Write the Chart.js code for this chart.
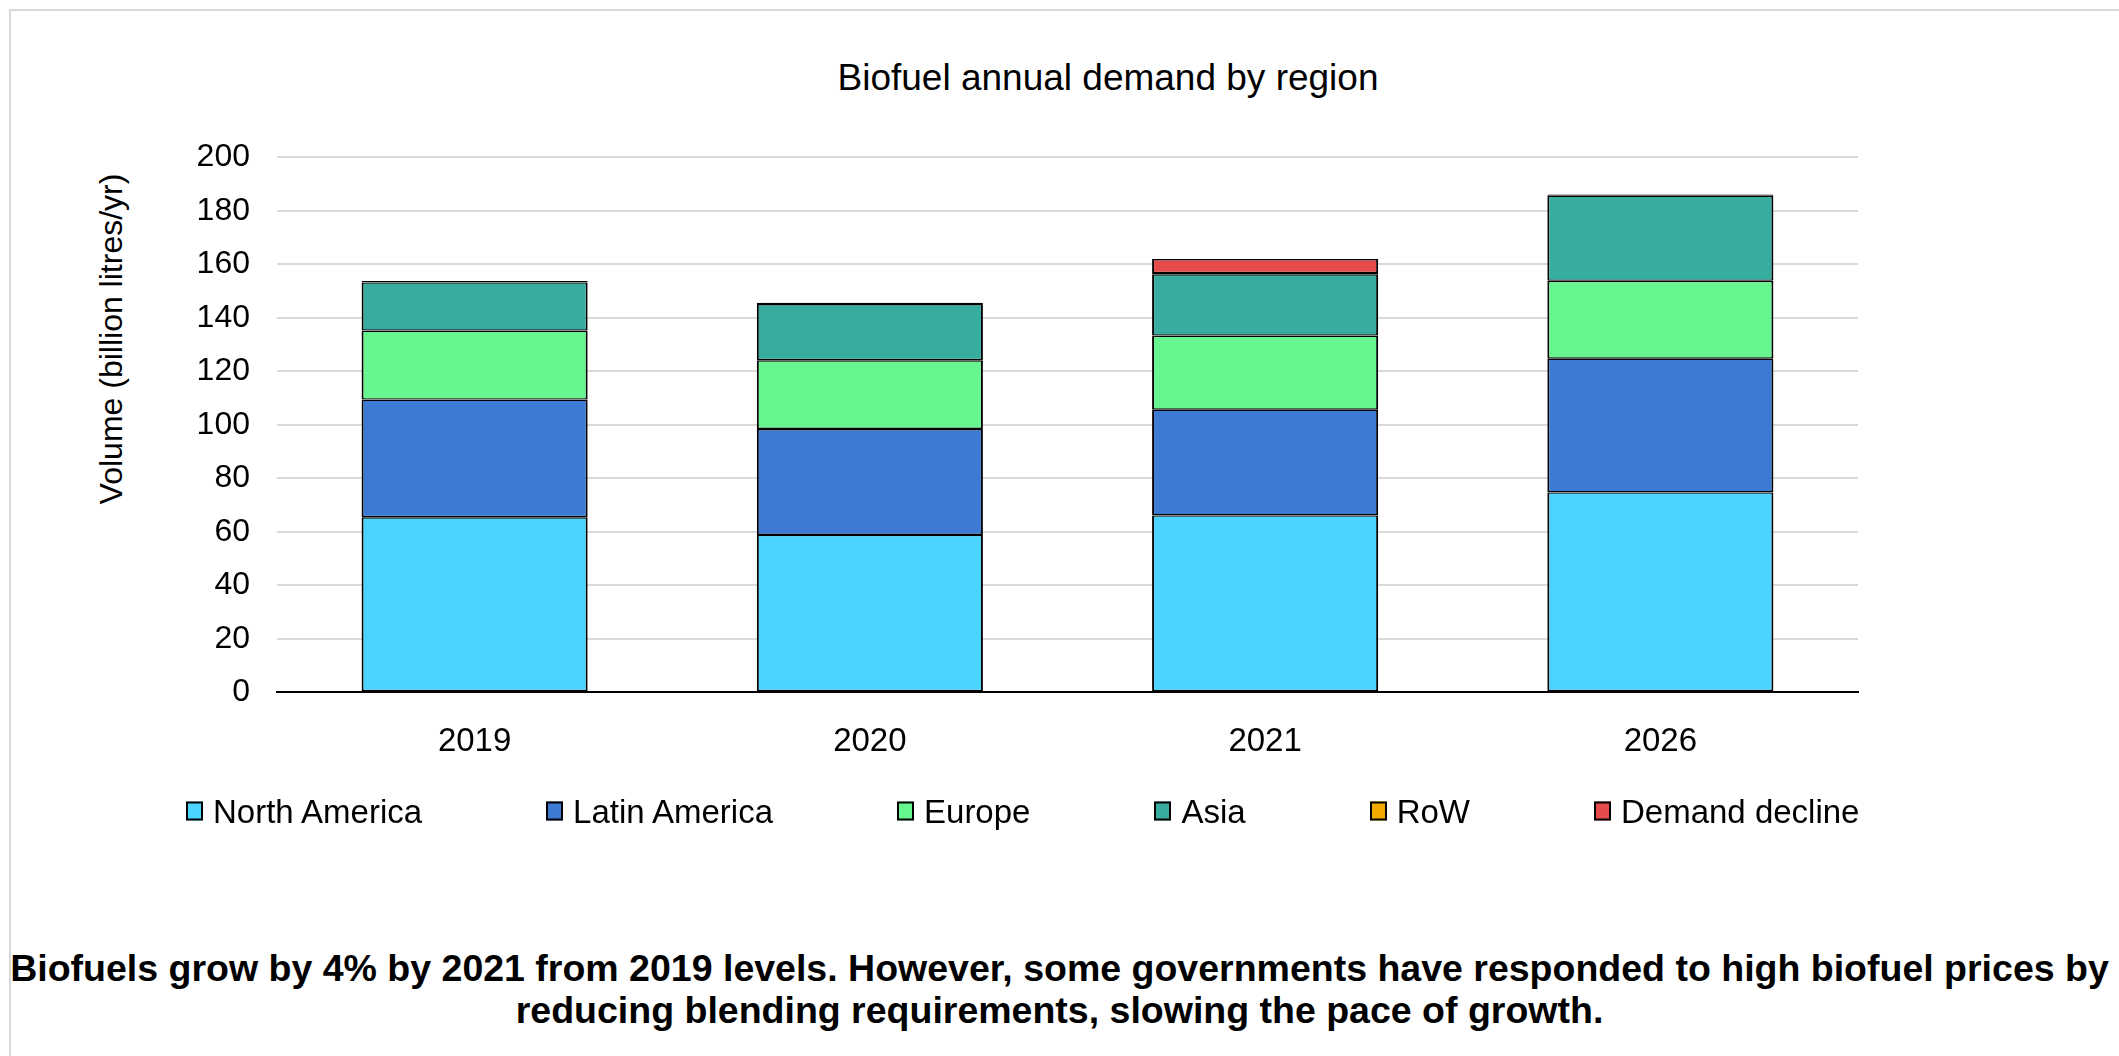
<!DOCTYPE html>
<html lang="en">
<head>
<meta charset="utf-8">
<title>Biofuel annual demand by region</title>
<script src="https://cdn.jsdelivr.net/npm/chart.js@4.4.1/dist/chart.umd.min.js"></script>
<style>
    html, body {
        margin: 0;
        padding: 0;
        background: #ffffff;
        overflow: hidden;
    }
    body {
        width: 2119px;
        height: 1056px;
        position: relative;
        font-family: "Liberation Sans", Arial, sans-serif;
        color: #000000;
    }
    .frame {
        position: absolute;
        left: 9px;
        top: 9px;
        width: 2400px;
        height: 1400px;
        border: 2px solid #d9d9d9;
    }
    .plot {
        position: absolute;
        left: 0;
        top: 0;
        width: 2119px;
        height: 811px;
    }
    .chart-title {
        position: absolute;
        left: 1108px;
        top: 77px;
        transform: translate(-50%, -50%);
        font-size: 37px;
        line-height: 1;
        white-space: nowrap;
    }
    .y-title {
        position: absolute;
        left: 111px;
        top: 339px;
        transform: translate(-50%, -50%) rotate(-90deg);
        font-size: 32px;
        line-height: 1;
        white-space: nowrap;
    }
    .legend {
        position: absolute;
        left: 186px;
        top: 811px;
        transform: translateY(-50%);
        display: flex;
        align-items: center;
        gap: 124px;
        font-size: 33px;
        line-height: 1;
        white-space: nowrap;
    }
    .legend-item {
        display: flex;
        align-items: center;
    }
    .swatch {
        width: 17px;
        height: 19px;
        box-sizing: border-box;
        border: 2px solid #000000;
        margin-right: 10px;
    }
    .caption {
        position: absolute;
        left: 0;
        top: 947px;
        width: 2119px;
        text-align: center;
        font-size: 37.5px;
        font-weight: bold;
        line-height: 42px;
        white-space: nowrap;
    }
</style>
</head>
<body>
<div class="frame"></div>
<div class="chart-title">Biofuel annual demand by region</div>
<div class="y-title">Volume (billion litres/yr)</div>
<div class="plot"><canvas id="demand-chart"></canvas></div>
<div class="legend" id="legend"></div>
<div class="caption">Biofuels grow by 4% by 2021 from 2019 levels. However, some governments have responded to high biofuel prices by<br>reducing blending requirements, slowing the pace of growth.</div>

<script>
// Annual demand, billion litres per year
const years = ['2019', '2020', '2021', '2026'];
const northAmerica = [65.4, 58.8, 66.1, 74.7];
const latinAmerica = [44.0, 39.6, 39.5, 50.0];
const europe = [25.8, 25.7, 27.7, 29.1];
const asia = [18.0, 21.0, 22.9, 31.8];
const restOfWorld = [0.5, 0.5, 0.5, 0.5];
const demandDecline = [0, 0, 5.2, 0];

const yTicks = { min: 0, max: 200, step: 20 };

const seriesNames = ['North America', 'Latin America', 'Europe', 'Asia', 'RoW', 'Demand decline'];
const seriesValues = [northAmerica, latinAmerica, europe, asia, restOfWorld, demandDecline];
const seriesColors = ['#4ad4ff', '#3c7ad4', '#67f590', '#37ad9f', '#f2aa00', '#e54b4b'];

const FONT = '"Liberation Sans", Arial, sans-serif';

function buildDatasets() {
    return seriesNames.map((name, i) => ({
        label: name,
        data: seriesValues[i],
        backgroundColor: seriesColors[i],
        borderColor: '#000000',
        // sides a bit heavier so stacked joins don't double up too much
        borderWidth: { left: 2, right: 2, top: 1.4, bottom: 1.4 },
        borderSkipped: false,
        barPercentage: 0.572,
        categoryPercentage: 1
    }));
}

function buildLegend() {
    const legend = document.getElementById('legend');
    seriesNames.forEach((name, i) => {
        const item = document.createElement('div');
        item.className = 'legend-item';
        const swatch = document.createElement('span');
        swatch.className = 'swatch';
        swatch.style.background = seriesColors[i];
        const text = document.createElement('span');
        text.textContent = name;
        item.appendChild(swatch);
        item.appendChild(text);
        legend.appendChild(item);
    });
}

function drawChart() {
    const ctx = document.getElementById('demand-chart').getContext('2d');

    new Chart(ctx, {
        type: 'bar',
        data: {
            labels: years,
            datasets: buildDatasets()
        },
        options: {
            responsive: true,
            maintainAspectRatio: false,
            animation: false,
            layout: {
                // leaves room for the html title, axis title and legend
                padding: { left: 169.6, right: 261, top: 157.2, bottom: 20.2 }
            },
            plugins: {
                legend: { display: false },
                title: { display: false },
                tooltip: { enabled: false }
            },
            scales: {
                x: {
                    stacked: true,
                    grid: { display: false, drawTicks: false },
                    border: { display: true, color: '#000000', width: 2 },
                    ticks: {
                        color: '#000000',
                        padding: 29.5,
                        font: { family: FONT, size: 33 }
                    }
                },
                y: {
                    stacked: true,
                    min: yTicks.min,
                    max: yTicks.max,
                    border: { display: false },
                    grid: {
                        drawTicks: false,
                        lineWidth: 2,
                        color: c => (c.tick && c.tick.value === 0 ? '#000000' : '#d9d9d9')
                    },
                    ticks: {
                        stepSize: yTicks.step,
                        color: '#000000',
                        padding: 27,
                        font: { family: FONT, size: 32 }
                    }
                }
            }
        }
    });
}

document.addEventListener('DOMContentLoaded', () => {
    buildLegend();
    drawChart();
});
</script>
</body>
</html>
